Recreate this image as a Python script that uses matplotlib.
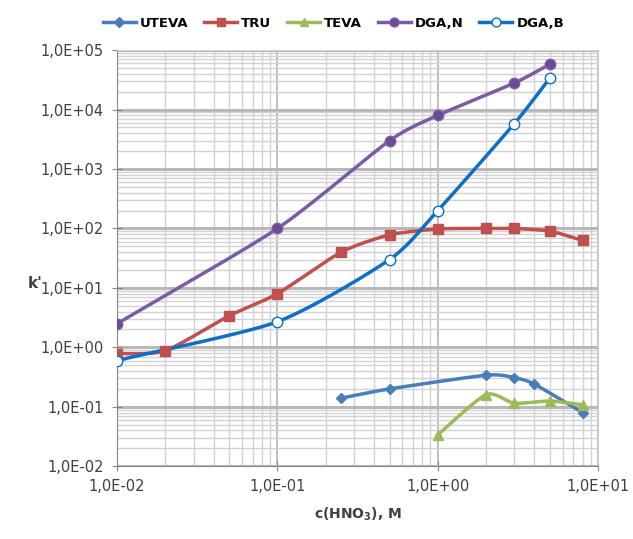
import numpy as np
import matplotlib.pyplot as plt
from matplotlib.ticker import LogLocator, FuncFormatter, NullFormatter

# Datos (c(HNO3) en M, k')
x_uteva = [0.25, 0.5, 2.0, 3.0, 4.0, 8.0]
k_uteva = [0.14, 0.20, 0.34, 0.31, 0.24, 0.08]

x_tru = [0.01, 0.02, 0.05, 0.1, 0.25, 0.5, 1.0, 2.0, 3.0, 5.0, 8.0]
k_tru = [0.78, 0.88, 3.4, 8.0, 40, 78, 98, 100, 100, 90, 63]

x_teva = [1.0, 2.0, 3.0, 5.0, 8.0]
k_teva = [0.034, 0.16, 0.115, 0.125, 0.108]

x_dgan = [0.01, 0.1, 0.5, 1.0, 3.0, 5.0]
k_dgan = [2.5, 100, 3000, 8000, 28000, 58000]

x_dgab = [0.01, 0.1, 0.5, 1.0, 3.0, 5.0]
k_dgab = [0.6, 2.7, 30, 200, 5800, 34000]


# Linea suavizada tipo Excel (Catmull-Rom en escala log-log)
def suave(xs, ys, n=30):
    lx = np.log10(xs); ly = np.log10(ys)
    px = np.concatenate([[2*lx[0]-lx[1]], lx, [2*lx[-1]-lx[-2]]])
    py = np.concatenate([[2*ly[0]-ly[1]], ly, [2*ly[-1]-ly[-2]]])
    ox = []; oy = []
    t = np.linspace(0, 1, n)
    for i in range(1, len(px)-2):
        for p, o in ((px, ox), (py, oy)):
            p0, p1, p2, p3 = p[i-1], p[i], p[i+1], p[i+2]
            m1 = (p2 - p0) / 2 * 0.7
            m2 = (p3 - p1) / 2 * 0.7
            h00 = 2*t**3 - 3*t**2 + 1; h10 = t**3 - 2*t**2 + t
            h01 = -2*t**3 + 3*t**2; h11 = t**3 - t**2
            o.extend(h00*p1 + h10*m1 + h01*p2 + h11*m2)
    return 10**np.array(ox), 10**np.array(oy)


fig = plt.figure(figsize=(6.33, 5.39), dpi=100)
ax = fig.add_axes([0.185, 0.135, 0.76, 0.772])

series = [
    ('UTEVA', x_uteva, k_uteva, '#4A7EBB', 'D', 5.5, '#4A7EBB'),
    ('TRU', x_tru, k_tru, '#C0504D', 's', 7, '#C0504D'),
    ('TEVA', x_teva, k_teva, '#9BBB59', '^', 7, '#9BBB59'),
    ('DGA,N', x_dgan, k_dgan, '#7B5BA6', 'o', 7.5, '#6A4C93'),
    ('DGA,B', x_dgab, k_dgab, '#0F6FC6', 'o', 7.5, 'white'),
]

for nombre, xs, ys, c, m, ms, fc in series:
    sx, sy = suave(xs, ys)
    ax.plot(sx, sy, color=c, lw=2.5, zorder=3)
    ax.plot(xs, ys, ls='none', marker=m, ms=ms, color=c, mfc=fc,
            mec=c, mew=1.0, zorder=4)
    ax.plot([], [], color=c, lw=2.5, marker=m, ms=ms*0.85, mfc=fc, mec=c,
            label=nombre)

ax.set_xscale('log')
ax.set_yscale('log')
ax.set_xlim(0.01, 10)
ax.set_ylim(0.01, 1e5)

ax.xaxis.set_major_locator(LogLocator(base=10, numticks=10))
ax.yaxis.set_major_locator(LogLocator(base=10, numticks=10))
ax.xaxis.set_minor_locator(LogLocator(base=10, subs=np.arange(2, 10), numticks=20))
ax.yaxis.set_minor_locator(LogLocator(base=10, subs=np.arange(2, 10), numticks=20))
ax.xaxis.set_minor_formatter(NullFormatter())
ax.yaxis.set_minor_formatter(NullFormatter())

def fmt(v, pos):
    e = int(round(np.log10(v)))
    return '1,0E%s%02d' % ('+' if e >= 0 else '-', abs(e))

ax.xaxis.set_major_formatter(FuncFormatter(fmt))
ax.yaxis.set_major_formatter(FuncFormatter(fmt))

ax.grid(True, which='major', axis='y', color='#B8B8B8', lw=2.2)
ax.grid(True, which='major', axis='x', color='#BFBFBF', lw=1.4)
ax.grid(True, which='minor', color='#D2D2D2', lw=1.0)
ax.set_axisbelow(True)

for s in ax.spines.values():
    s.set_color('#D2D2D2')
ax.spines['left'].set_color('#868686')
ax.spines['bottom'].set_color('#868686')

ax.tick_params(which='major', direction='inout', length=7, color='#868686',
               labelsize=10.5, labelcolor='#404040', pad=6)
ax.tick_params(which='minor', length=0)

ax.set_xlabel('c(HNO$_\\mathbf{3}$), M', fontsize=10, fontweight='bold',
              color='#404040', labelpad=8)
ax.set_ylabel("k'", fontsize=11, fontweight='bold', rotation=0, color='#404040')
ax.yaxis.set_label_coords(-0.17, 0.42)

ax.legend(loc='lower center', bbox_to_anchor=(0.45, 1.02), ncol=5, frameon=False,
          prop={'weight': 'bold', 'size': 9.5}, handlelength=2.5,
          columnspacing=1.2, handletextpad=0.3)

plt.savefig('out.png', dpi=100)
